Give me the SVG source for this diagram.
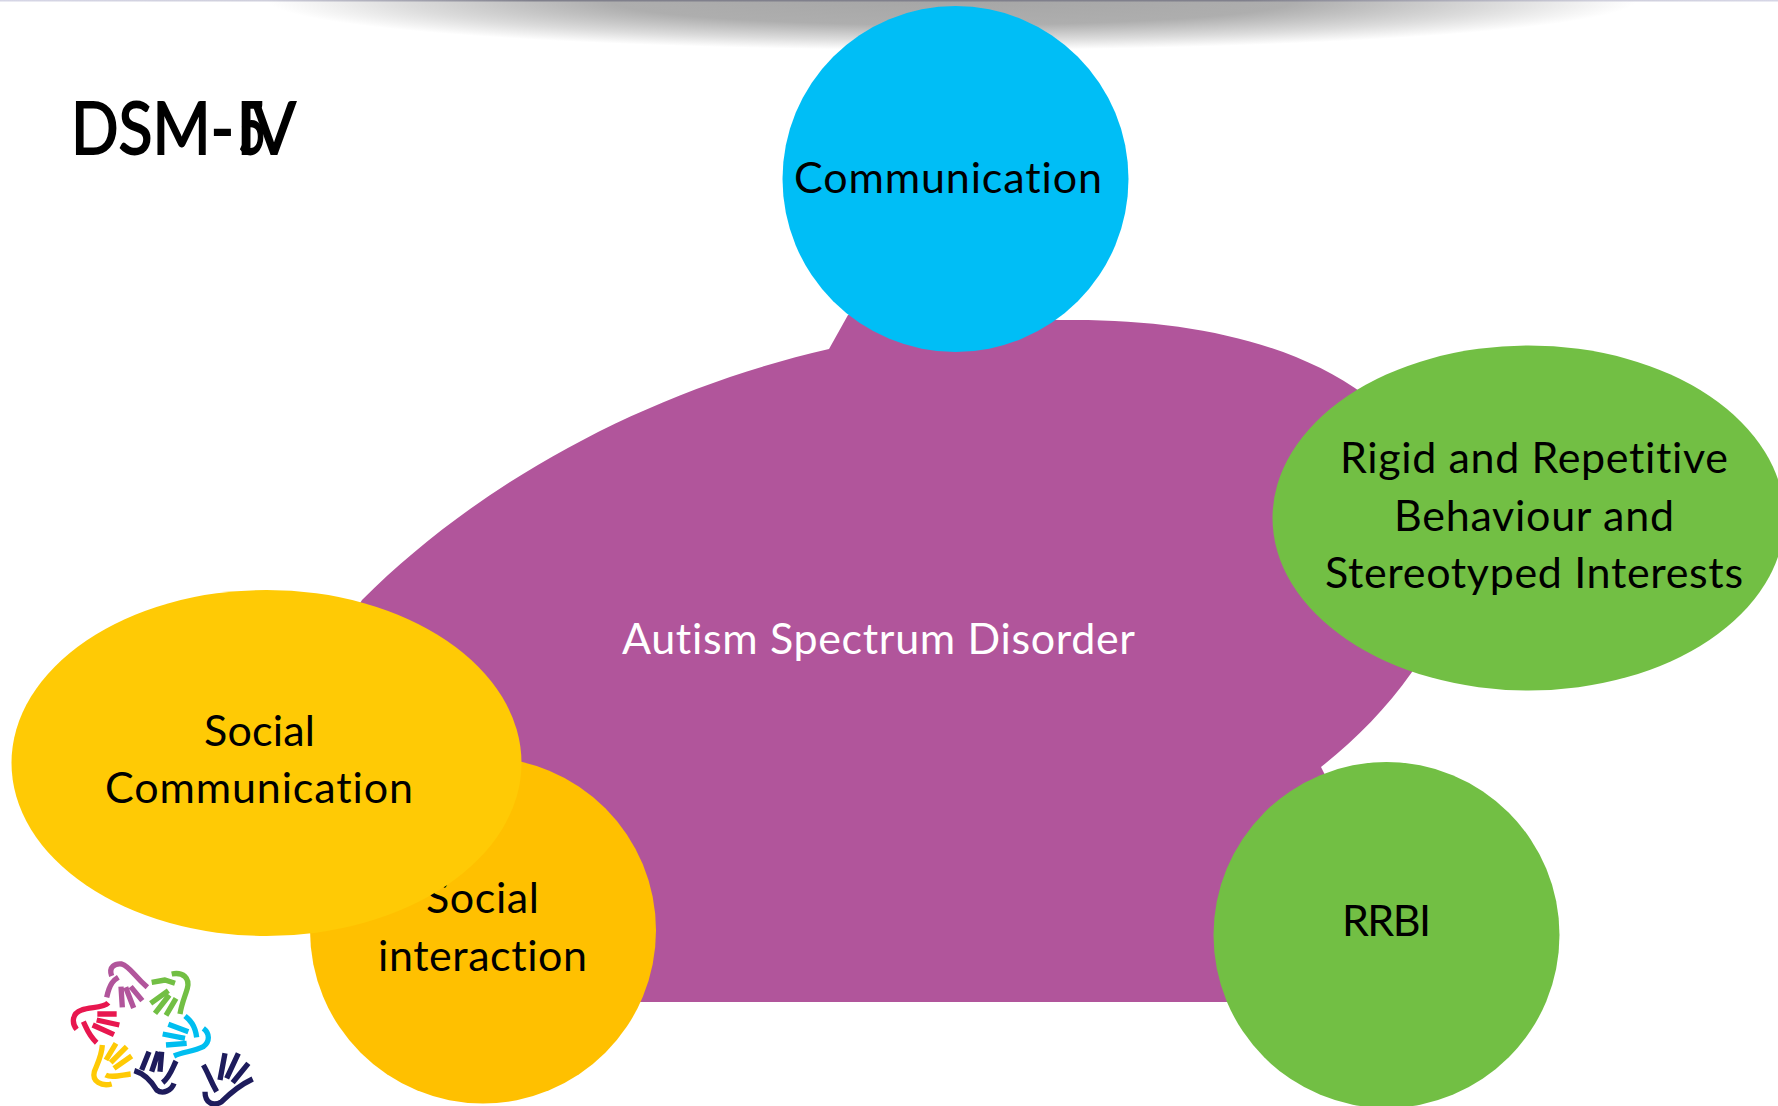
<svg xmlns="http://www.w3.org/2000/svg" width="1778" height="1106" viewBox="0 0 1778 1106">
<style>
text{font-family:Lato,"Open Sans","Liberation Sans",sans-serif;font-size:43px;fill:#000;text-anchor:start;font-variant-ligatures:none}
.w{fill:#fff}
.title{font-size:72px;stroke:#000;stroke-width:1.8px}
.h{fill:none;stroke-width:16;stroke-linecap:butt;stroke-linejoin:round}
</style>
<defs>
<radialGradient id="sh" cx="0.5" cy="0.5" r="0.5">
<stop offset="0" stop-color="#a6a6a6"/><stop offset="0.5" stop-color="#aeaeae"/><stop offset="0.8" stop-color="#dcdcdc"/><stop offset="1" stop-color="#fff"/>
</radialGradient>
<linearGradient id="top" x1="0" x2="1" y1="0" y2="0">
<stop offset="0" stop-color="#d6d6e6"/><stop offset="0.15" stop-color="#cfcfdc"/><stop offset="0.3" stop-color="#80808c"/><stop offset="0.7" stop-color="#80808c"/><stop offset="0.9" stop-color="#cfcfdc"/><stop offset="1" stop-color="#d6d6e6"/>
</linearGradient>
</defs>
<rect width="1778" height="1106" fill="#fff"/>
<g id="top-shadow">
<ellipse cx="952" cy="0" rx="685" ry="50" fill="url(#sh)"/>
<rect width="1778" height="1.5" fill="url(#top)"/>
</g>
<g id="title"><text class="title" x="71" y="154" textLength="163" lengthAdjust="spacingAndGlyphs">DSM-</text><text class="title" x="238" y="154" textLength="28" lengthAdjust="spacingAndGlyphs">5</text><text class="title" x="236" y="154">I</text><text class="title" x="252" y="154" textLength="44" lengthAdjust="spacingAndGlyphs">V</text></g>
<g id="autism"><path fill="#B1559B" d="M829,349 L848,315 L1060,320 C1180,318 1290,340 1365,395 L1500,500 L1412,672 C1385,710 1355,740 1321,767 L1330,785 L1240,1002 L640,1002 L500,900 L300,700 L362,600 C482,480 650,390 829,349Z"/>
<text class="w" x="622" y="654" textLength="513">Autism Spectrum Disorder</text></g>
<g id="communication"><circle cx="955.500" cy="179" r="173" fill="#00BEF6"/><text x="794" y="193" textLength="308">Communication</text></g>
<g id="rigid"><ellipse cx="1528.500" cy="518" rx="256" ry="172.500" fill="#72BF44"/>
<text x="1340" y="473" textLength="388">Rigid and Repetitive</text>
<text x="1394" y="531" textLength="280">Behaviour and</text>
<text x="1325" y="588" textLength="418">Stereotyped Interests</text></g>
<g id="rrbi"><circle cx="1386.500" cy="935" r="173" fill="#72BF44"/><text x="1342" y="936" textLength="89">RRBI</text></g>
<g id="social-interaction"><circle cx="483" cy="930.500" r="173" fill="#FFC000"/><text x="426" y="913" textLength="113">Social</text><text x="378" y="971" textLength="209">interaction</text></g>
<g id="social-communication"><ellipse cx="266.500" cy="763" rx="255" ry="173" fill="#FFCA05"/><text x="204" y="746" textLength="111">Social</text><text x="105" y="803" textLength="308">Communication</text></g>
<g id="logo" transform="translate(40 930) scale(.33333)">
<g stroke="#B1559B" class="h"><path d="M215,138C205,110 225,100 245,102C270,110 280,135 322,172M235,142C222,150 210,158 200,202M243,170L247,232M257,172L281,234M272,170L307,212"/></g>
<g stroke="#72BF44" class="h"><path d="M335,157L375,150L405,160M395,132C430,125 450,145 442,175C435,200 425,220 420,252M385,182L332,220M388,195L345,250M408,205L378,256"/></g>
<g stroke="#00BEF0" class="h"><path d="M435,258C450,270 465,285 470,322M490,295C510,310 510,335 490,350C460,365 430,365 402,378M385,283L445,305M368,312L435,325M378,345L440,340"/></g>
<g stroke="#E8174F" class="h"><path d="M205,218C190,235 150,230 125,240C95,250 95,280 110,298M130,275C140,295 145,315 170,338M172,252L230,252M170,270L238,285M158,285L222,314"/></g>
<g stroke="#FFCA05" class="h"><path d="M187,345C185,380 170,405 163,425C155,455 185,470 215,462M197,435C215,445 245,435 272,432M228,340L198,390M260,350L212,398M275,378L222,415"/></g>
<g stroke="#1E1C5C" class="h"><path d="M283,422C310,430 335,455 350,480C370,495 395,480 402,460M408,393C395,420 390,440 368,458M327,365L305,420M355,365L335,425M365,365L360,425M490,405C505,430 510,450 530,485M495,485C495,520 520,530 545,515C570,490 600,465 638,447M555,370L540,450M595,370L560,445M625,400L578,458"/></g>
</g>
</svg>
